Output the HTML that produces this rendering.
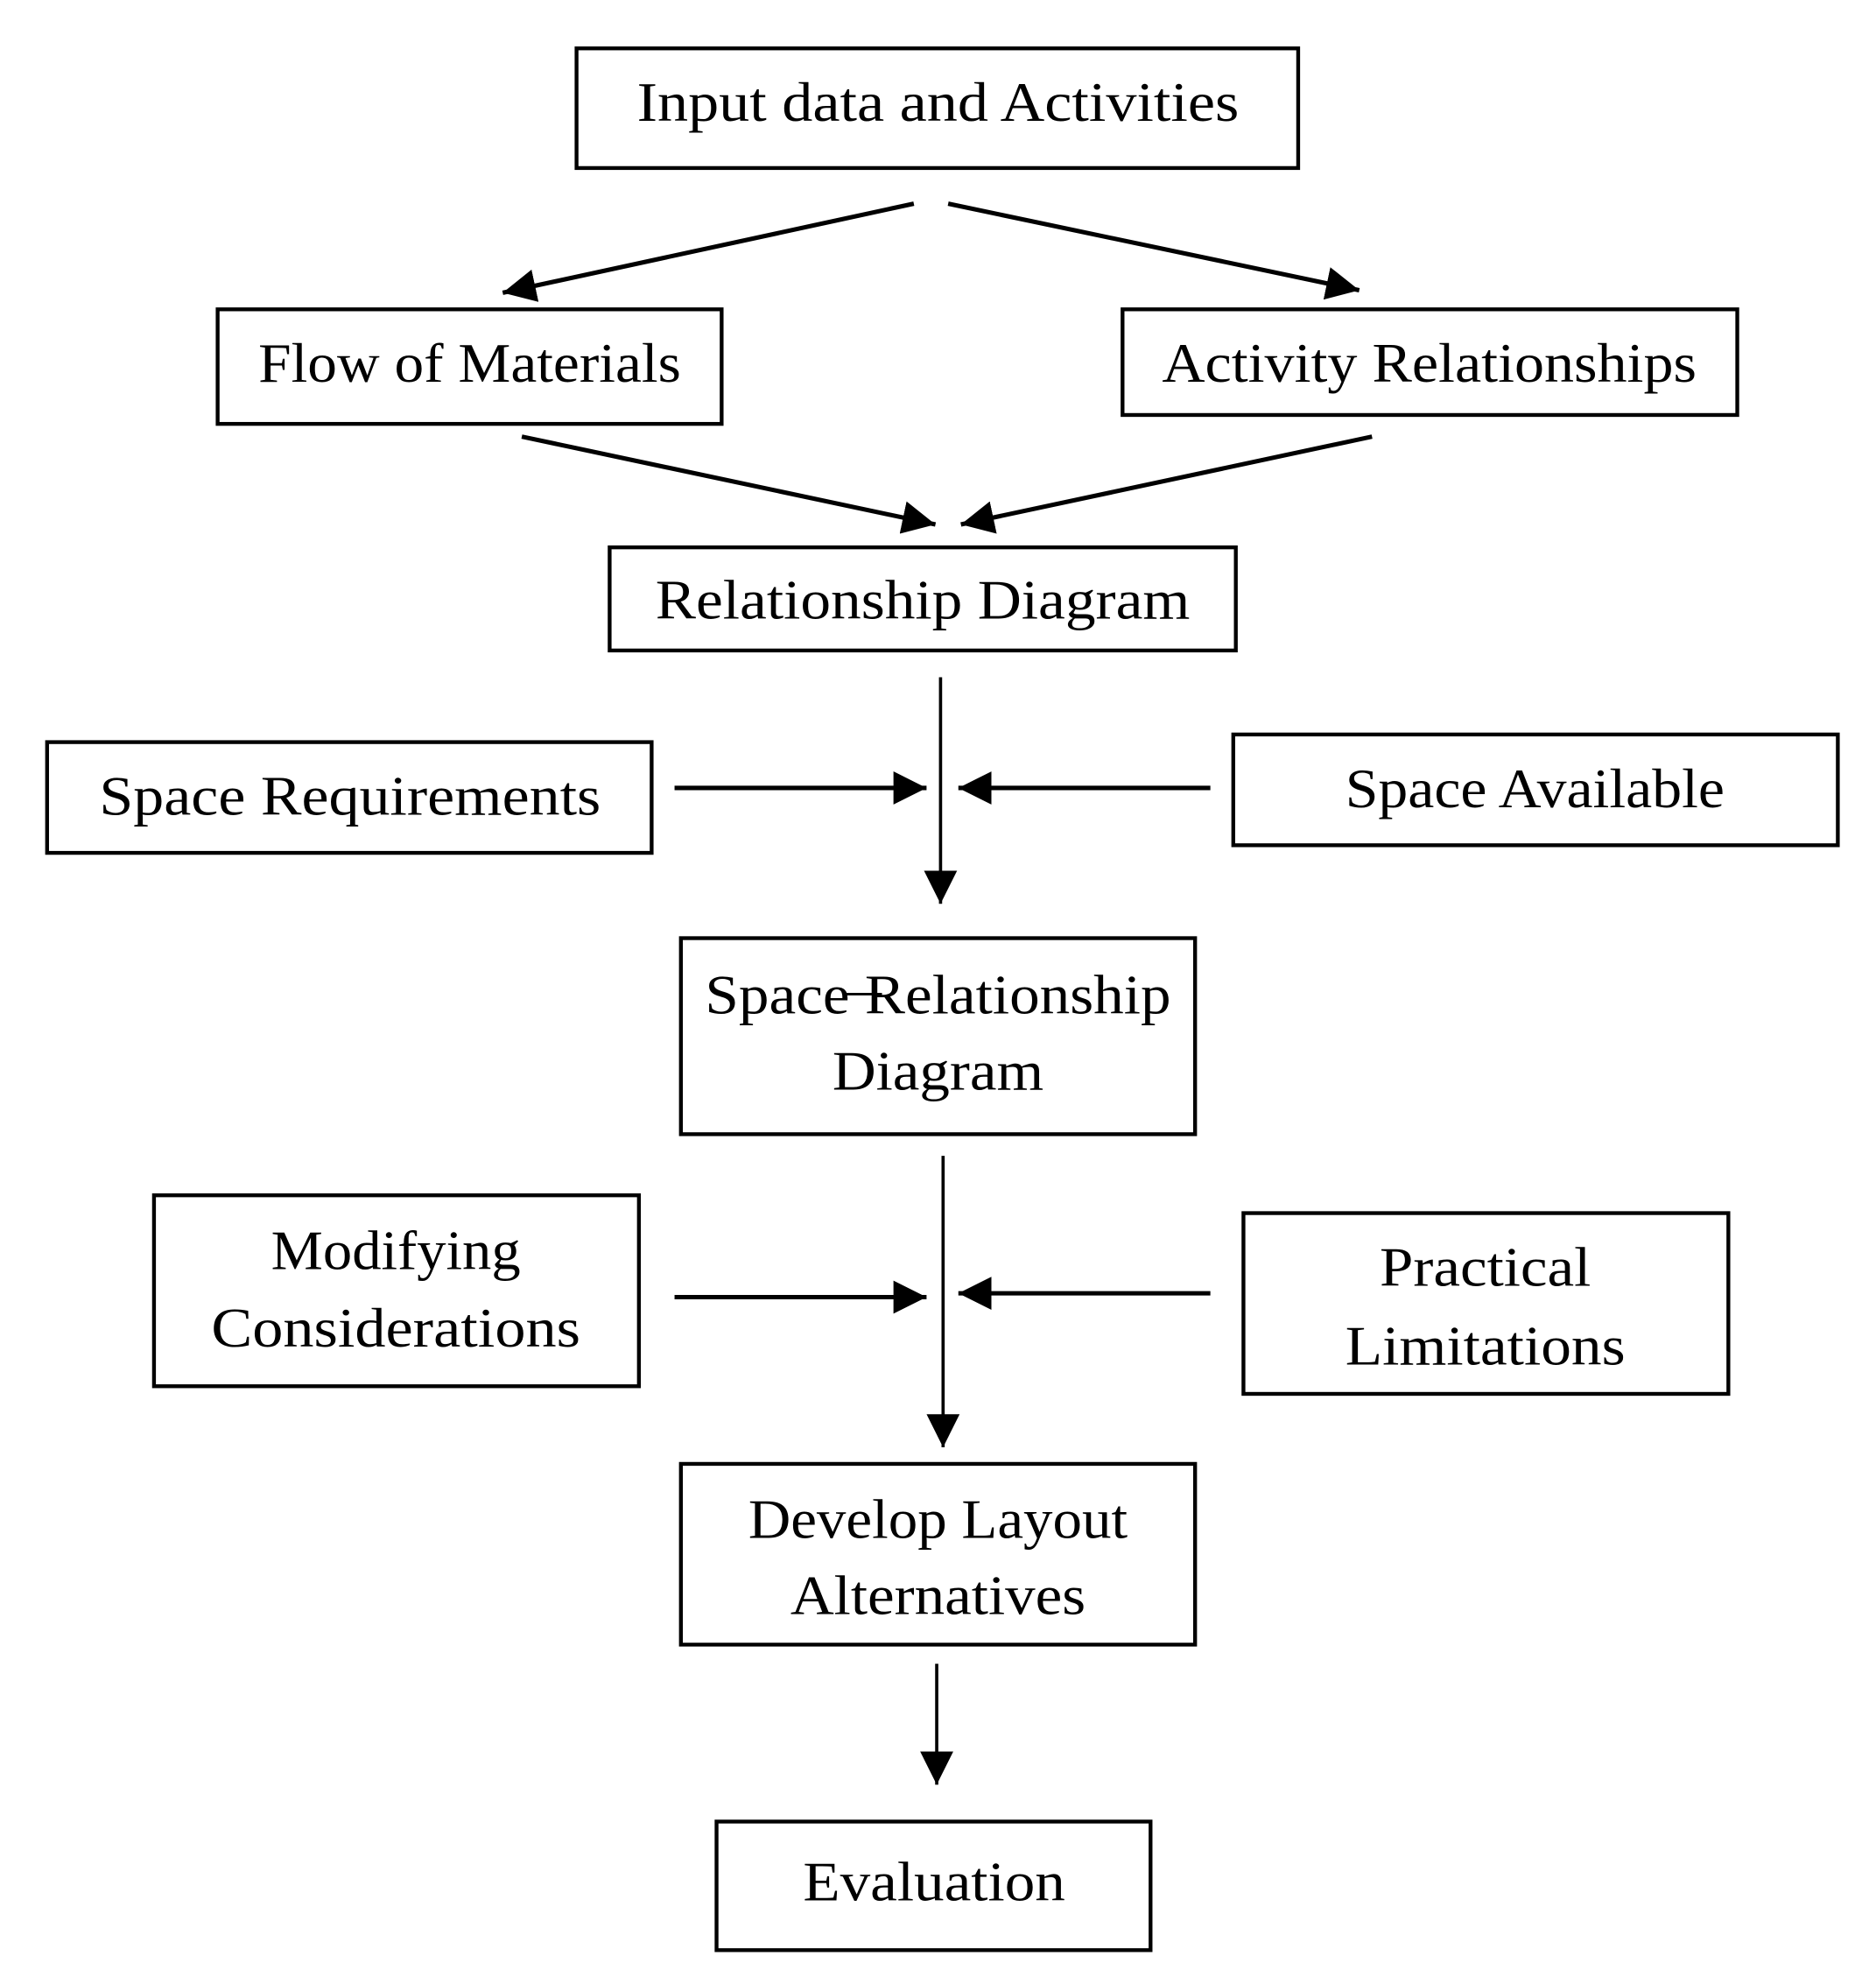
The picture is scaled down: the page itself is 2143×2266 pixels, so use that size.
<!DOCTYPE html>
<html><head><style>html,body{margin:0;padding:0;background:#fff}svg{display:block}</style></head>
<body>
<svg width="2143" height="2266" viewBox="0 0 1474 1558.6" xmlns="http://www.w3.org/2000/svg">
<defs><marker id="a" viewBox="0 0 10 10" refX="10" refY="5" markerWidth="9" markerHeight="9" markerUnits="userSpaceOnUse" orient="auto"><path d="M0,0L10,5L0,10z" fill="#000"/></marker>
<marker id="b" viewBox="0 0 10 10" refX="10" refY="5" markerWidth="26" markerHeight="26" markerUnits="userSpaceOnUse" orient="auto"><path d="M0,0L10,5L0,10z" fill="#000"/></marker></defs>
<g fill="none" stroke="#000" stroke-width="3">
<rect x="453" y="38" width="567" height="94"/>
<rect x="171" y="243" width="396" height="90"/>
<rect x="882" y="243" width="483" height="83"/>
<rect x="479" y="430" width="492" height="81"/>
<rect x="37" y="583" width="475" height="87"/>
<rect x="969" y="577" width="475" height="87"/>
<rect x="535" y="737" width="404" height="154"/>
<rect x="121" y="939" width="381" height="150"/>
<rect x="977" y="953" width="381" height="142"/>
<rect x="535" y="1150" width="404" height="142"/>
<rect x="563" y="1431" width="341" height="101"/>
</g>
<g stroke="#000" stroke-width="3.5" marker-end="url(#b)">
<line x1="718" y1="160" x2="395" y2="230"/>
<line x1="745" y1="160" x2="1068" y2="228"/>
<line x1="410" y1="343" x2="735" y2="412"/>
<line x1="1078" y1="343" x2="755" y2="412"/>
<line x1="530" y1="619" x2="728" y2="619"/>
<line x1="951" y1="619" x2="753" y2="619"/>
<line x1="530" y1="1019" x2="728" y2="1019"/>
<line x1="951" y1="1016" x2="753" y2="1016"/>
</g>
<g stroke="#000" stroke-width="2.5" marker-end="url(#b)">
<line x1="739" y1="532" x2="739" y2="710"/>
<line x1="741" y1="908" x2="741" y2="1137"/>
<line x1="736" y1="1307" x2="736" y2="1402"/>
</g>
<line x1="665" y1="781" x2="693" y2="781" stroke="#000" stroke-width="2"/>
<g font-family="'Liberation Serif',serif" font-size="44" fill="#000" text-anchor="middle">
<text x="737" y="95" textLength="473" lengthAdjust="spacingAndGlyphs">Input data and Activities</text>
<text x="369" y="300" textLength="332" lengthAdjust="spacingAndGlyphs">Flow of Materials</text>
<text x="1123" y="300" textLength="420" lengthAdjust="spacingAndGlyphs">Activity Relationships</text>
<text x="725" y="486" textLength="420" lengthAdjust="spacingAndGlyphs">Relationship Diagram</text>
<text x="275" y="640" textLength="394" lengthAdjust="spacingAndGlyphs">Space Requirements</text>
<text x="1206" y="634" textLength="298" lengthAdjust="spacingAndGlyphs">Space Available</text>
<text x="737" y="796" textLength="366" lengthAdjust="spacingAndGlyphs">Space Relationship</text>
<text x="737" y="856" textLength="166" lengthAdjust="spacingAndGlyphs">Diagram</text>
<text x="311" y="997" textLength="196" lengthAdjust="spacingAndGlyphs">Modifying</text>
<text x="311" y="1058" textLength="290" lengthAdjust="spacingAndGlyphs">Considerations</text>
<text x="1167" y="1010" textLength="166" lengthAdjust="spacingAndGlyphs">Practical</text>
<text x="1167" y="1072" textLength="220" lengthAdjust="spacingAndGlyphs">Limitations</text>
<text x="737" y="1208" textLength="298" lengthAdjust="spacingAndGlyphs">Develop Layout</text>
<text x="737" y="1268" textLength="232" lengthAdjust="spacingAndGlyphs">Alternatives</text>
<text x="734" y="1493" textLength="206" lengthAdjust="spacingAndGlyphs">Evaluation</text>
</g>
</svg>
</body></html>
